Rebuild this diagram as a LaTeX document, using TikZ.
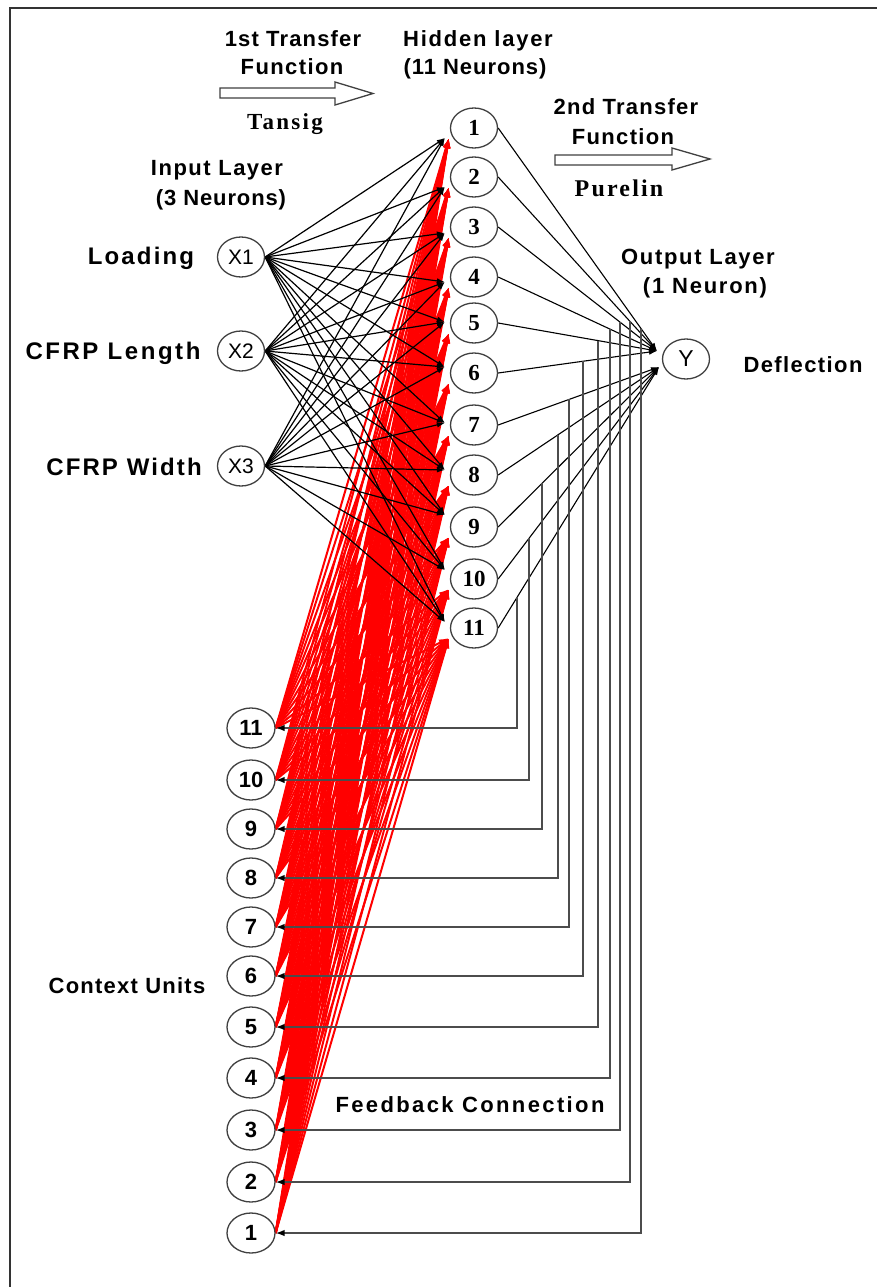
\documentclass[tikz,border=0pt]{standalone}
\usepackage{fontspec}
\setmainfont{Liberation Sans}
\newfontfamily\timesf{Liberation Serif}
\usetikzlibrary{arrows.meta,calc,shapes.geometric}
\pgfdeclarelayer{back}
\pgfdeclarelayer{bg}
\pgfsetlayers{back,bg,main}
\newcommand\lab[2]{\fontsize{#1}{#1}\selectfont\bfseries\addfontfeature{LetterSpace=#2}}
\newcommand\labt[2]{\timesf\fontsize{#1}{#1}\selectfont\bfseries\addfontfeature{LetterSpace=#2}}
\begin{document}
\begin{tikzpicture}[x=1pt,y=-1pt,
  neuron/.style={ellipse, draw=black!75, line width=1.3pt, fill=white,
    minimum width=47pt, minimum height=40pt, inner sep=0pt},
  txt/.style={anchor=base, inner sep=0pt},
  tip/.style={-{Latex[length=8pt,width=5.5pt]}},
  inw/.style={black, line width=1.2pt, tip},
  ctxw/.style={red, line width=2pt, -{Latex[length=10pt,width=7pt]}},
  outw/.style={black, line width=1.1pt, tip},
  fb/.style={black!70, line width=1.5pt, -{Latex[length=9pt,width=6.5pt,black]}},
  hollow/.style={draw=black!75, line width=1.3pt, fill=white}
]
\useasboundingbox (0,0) rectangle (876,1287);
\begin{pgfonlayer}{back}
\fill[white] (-10,-10) rectangle (890,1300);
\draw[line width=1.5pt, black!80] (10,1300) -- (10,8) -- (890,8);
\end{pgfonlayer}

% nodes
\node[neuron] (X1) at (241,257) {\fontsize{21}{21}\selectfont X1};
\node[neuron] (X2) at (241,351) {\fontsize{21}{21}\selectfont X2};
\node[neuron] (X3) at (241,466) {\fontsize{21}{21}\selectfont X3};
\foreach \k/\y in {1/128,2/177,3/227,4/277,5/323,6/373,7/425,8/475,9/527,10/579,11/628}
  \node[neuron] (h\k) at (474,\y) {\timesf\bfseries\fontsize{23}{23}\selectfont \k};
\foreach \k/\y in {11/728,10/780,9/829,8/878,7/927,6/976,5/1027,4/1078,3/1130,2/1182,1/1233}
  \node[neuron, minimum width=48pt] (c\k) at (251,\y) {\bfseries\fontsize{22}{22}\selectfont \k};
\node[neuron] (Y) at (686,359) {\fontsize{23}{23}\selectfont Y};

\coordinate (yin1) at (657,351);
\coordinate (yin2) at (659,367);
\foreach \k/\d in {1/10,2/10,3/6,4/5,5/-1,6/-6,7/-2,8/-5,9/-12,10/-9,11/-6}
  \coordinate (b\k) at ($(h\k.west)+(-5,\d)$);
\foreach \k in {1,...,11}
  \coordinate (r\k) at ($(h\k.west)+(-1,10)$);

\begin{pgfonlayer}{bg}
  \foreach \j in {1,...,11}
    \foreach \k in {1,...,11}
      \draw[ctxw] (c\j.east) -- (r\k);
  \foreach \i in {1,2,3}
    \foreach \k in {1,...,11}
      \draw[inw] (X\i.east) -- (b\k);
  \foreach \k in {1,...,6} \draw[outw] (h\k.east) -- (yin1);
  \foreach \k in {7,...,11} \draw[outw] (h\k.east) -- (yin2);
  \foreach \k/\vx/\tg in {1/641/yin1,2/630/yin1,3/620/yin1,4/610/yin1,5/598/yin1,6/583/yin1,
                        7/569/yin2,8/558/yin2,9/542/yin2,10/529/yin2,11/517/yin2}
    \draw[fb] (intersection cs: first line={(h\k.east)--(\tg)}, second line={(\vx,0)--(\vx,100)}) |- (c\k.east);
\end{pgfonlayer}

% hollow arrows
\draw[hollow] (220,88) -- (335,88) -- (335,82) -- (373,93.5) -- (335,105) -- (335,98) -- (220,98) -- cycle;
\draw[hollow] (555,155) -- (672,155) -- (672,148) -- (710,159) -- (672,170) -- (672,165) -- (555,165) -- cycle;

% labels
\node[txt, font=\lab{22}{5.3}] (t1a) at (293,47) {1st Transfer};
\node[txt, font=\lab{22}{6.3}] (t1b) at (292,75) {Function};
\node[txt, font=\labt{23}{10}] (t1c) at (285,130) {Tansig};
\node[txt, font=\lab{22}{8}] (hla) at (478,47) {Hidden layer};
\node[txt, font=\lab{22}{4.4}] (hlb) at (475,75) {(11 Neurons)};
\node[txt, font=\lab{22}{6.8}] (ila) at (217,175) {Input Layer};
\node[txt, font=\lab{22}{4}] (ilb) at (221,205) {(3 Neurons)};
\node[txt, font=\lab{22}{5.7}] (t2a) at (626,115) {2nd Transfer};
\node[txt, font=\lab{22}{6}] (t2b) at (623,145) {Function};
\node[txt, font=\labt{24}{9}] (t2c) at (619,196) {Purelin};
\node[txt, font=\lab{22}{7.6}] (ola) at (698,264) {Output Layer};
\node[txt, font=\lab{22}{8}] (olb) at (705,293) {(1 Neuron)};
\node[txt, font=\lab{22}{6.4}] (defl) at (803,372) {Deflection};
\node[txt, font=\lab{24}{9}] (load) at (141,264) {Loading};
\node[txt, font=\lab{24}{10.6}] (len) at (113,359) {CFRP Length};
\node[txt, font=\lab{24}{8.8}] (wid) at (124,475) {CFRP Width};
\node[txt, font=\lab{22}{5.6}] (ctx) at (127,993) {Context Units};
\node[txt, font=\lab{22}{10.8}] (fbl) at (470,1112) {Feedback Connection};
\end{tikzpicture}
\end{document}
